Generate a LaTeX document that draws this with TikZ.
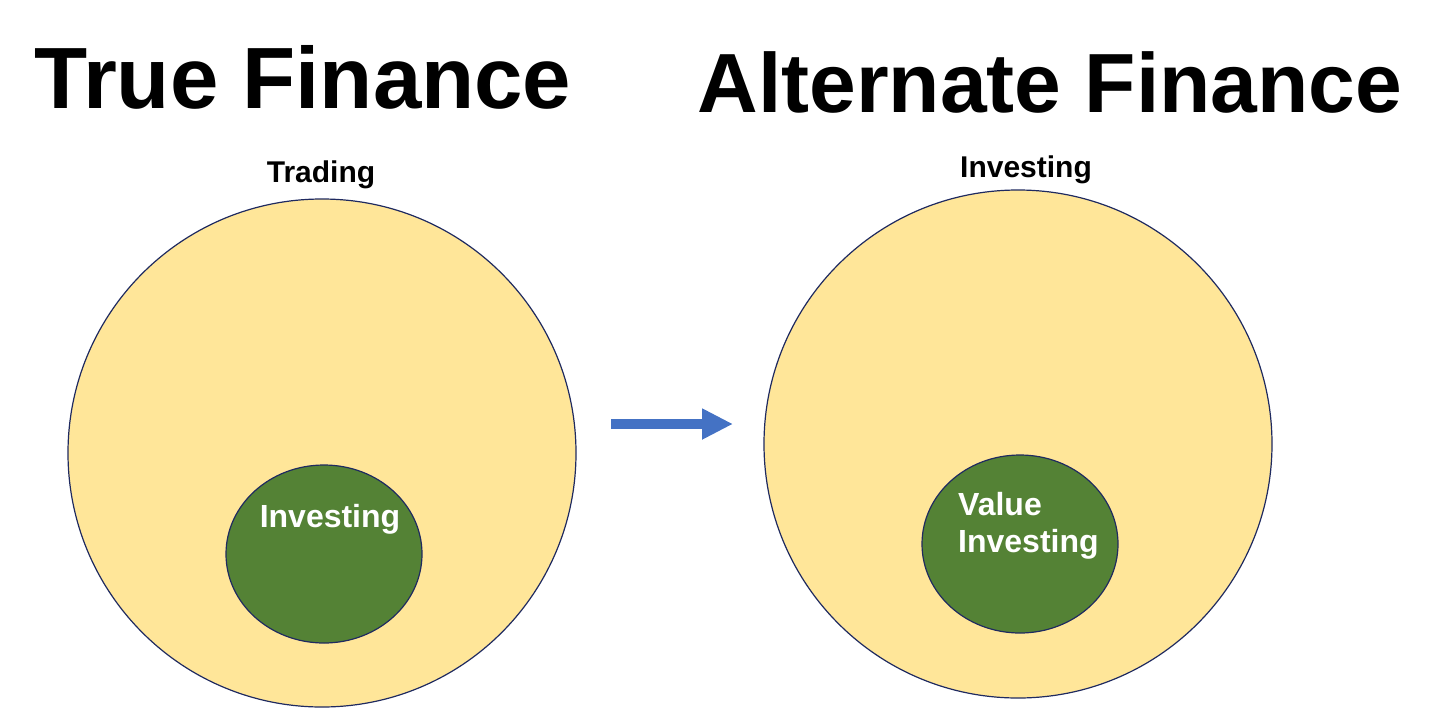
\documentclass[tikz,border=0pt]{standalone}
\usepackage{fontspec}
\setmainfont{Liberation Sans}
\usetikzlibrary{shapes.geometric,arrows.meta}
\definecolor{sand}{HTML}{FFE699}
\definecolor{leaf}{HTML}{548235}
\definecolor{rim}{HTML}{1F2A60}
\definecolor{arrowblue}{HTML}{4472C4}
\tikzset{
  bigdisc/.style={circle, draw=rim, line width=1.2pt, fill=sand, minimum size=508pt, inner sep=0pt},
  smalldisc/.style={ellipse, draw=rim, line width=1.2pt, fill=leaf, minimum width=196pt, minimum height=178pt, inner sep=0pt},
  title/.style={font=\bfseries\fontsize{84}{84}\selectfont, anchor=base, inner sep=0pt},
  label/.style={font=\bfseries\fontsize{30}{30}\selectfont, anchor=base, inner sep=0pt},
  inner/.style={font=\bfseries\fontsize{32}{37}\selectfont, text=white, inner sep=0pt},
  flow/.style={arrowblue, line width=10pt, -{Triangle[length=31pt,width=29pt]}}
}
\begin{document}
\begin{tikzpicture}[x=1pt,y=-1pt]
\useasboundingbox (0,0) rectangle (1456,710);
\node[title, font=\bfseries\fontsize{87}{87}\selectfont] (t1) at (303,108) {True Finance};
\node[title] (t2) at (1050,112) {Alternate Finance};
\node[bigdisc] (big1) at (322,453) {};
\node[bigdisc] (big2) at (1018,444) {};
\node[label] (l1) at (321,182) {Trading};
\node[label] (l2) at (1026,177) {Investing};
\node[smalldisc] (s1) at (324,554) {};
\node[smalldisc] (s2) at (1020,544) {};
\node[inner, anchor=base] (i1) at (330,527) {Investing};
\node[inner, anchor=base west, align=left] (i2) at (958,552) {Value\\Investing};
\coordinate (a1) at (611,424);
\coordinate (a2) at (733,424);
\draw[flow] (a1) -- (a2);
\end{tikzpicture}
\end{document}
